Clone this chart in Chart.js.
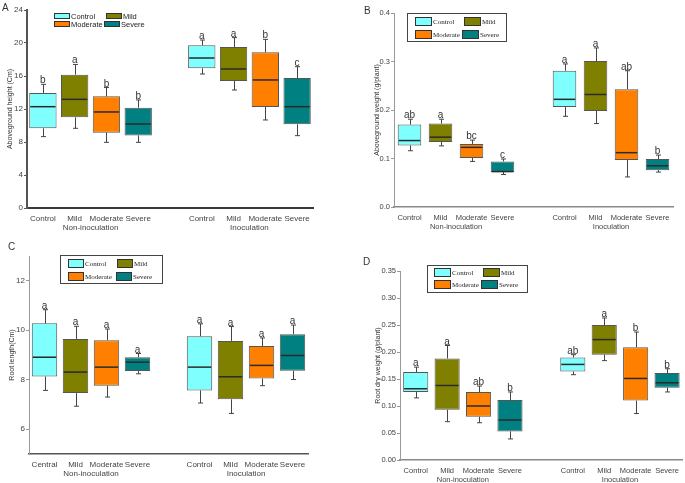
<!DOCTYPE html>
<html>
<head>
<meta charset="utf-8">
<script src="https://cdn.jsdelivr.net/npm/chart.js@4.4.1/dist/chart.umd.min.js"></script>
<style>
html, body { margin: 0; padding: 0; background: #fff; }
#wrap { position: relative; width: 685px; height: 483px; overflow: hidden; }
#wrap canvas { position: absolute; left: 0; top: 0; }
</style>
</head>
<body>
<div id="wrap">
  <canvas id="chartA" width="685" height="483"></canvas>
  <canvas id="chartB" width="685" height="483"></canvas>
  <canvas id="chartC" width="685" height="483"></canvas>
  <canvas id="chartD" width="685" height="483"></canvas>
</div>
<script>
// order of every array: Non-inoculation Control, Mild, Moderate, Severe, then Inoculation Control, Mild, Moderate, Severe
const treatmentNames = ['Control', 'Mild', 'Moderate', 'Severe'];
const groupNames = ['Non-inoculation', 'Inoculation'];

// A - aboveground height (Cm)
const heightLabels = ['Control', 'Mild', 'Moderate', 'Severe', 'Control', 'Mild', 'Moderate', 'Severe'];
const heightTicks = [0, 4, 8, 12, 16, 20, 24];
const heightLow = [8.65, 9.66, 7.96, 7.96, 16.24, 14.3, 10.67, 8.77];
const heightQ1 = [9.66, 10.99, 9.13, 8.8, 16.93, 15.39, 12.24, 10.14];
const heightMedian = [12.28, 13.17, 11.64, 10.18, 18.18, 16.85, 15.52, 12.28];
const heightQ3 = [13.94, 16.16, 13.54, 12.16, 19.72, 19.52, 18.87, 15.76];
const heightHigh = [14.99, 17.4, 14.6, 13.1, 20.36, 20.65, 20.44, 17.13];
const heightLetters = ['b', 'a', 'b', 'b', 'a', 'a', 'b', 'c'];

// B - aboveground weight (g/plant)
const weightLabels = ['Control', 'Mild', 'Moderate', 'Severe', 'Control', 'Mild', 'Moderate', 'Severe'];
const weightTicks = [0, 0.1, 0.2, 0.3, 0.4];
const weightLow = [0.116, 0.126, 0.094, 0.067, 0.187, 0.172, 0.062, 0.072];
const weightQ1 = [0.127, 0.134, 0.101, 0.072, 0.206, 0.198, 0.097, 0.076];
const weightMedian = [0.137, 0.144, 0.123, 0.073, 0.222, 0.232, 0.112, 0.085];
const weightQ3 = [0.170, 0.172, 0.130, 0.094, 0.281, 0.301, 0.243, 0.099];
const weightHigh = [0.181, 0.181, 0.138, 0.099, 0.295, 0.328, 0.281, 0.107];
const weightLetters = ['ab', 'a', 'bc', 'c', 'a', 'a', 'ab', 'b'];

// C - root length (Cm)
const lengthLabels = ['Central', 'Mild', 'Moderate', 'Severe', 'Control', 'Mild', 'Moderate', 'Severe'];
const lengthTicks = [6, 8, 10, 12];
const lengthLow = [7.57, 6.93, 7.30, 8.24, 7.06, 6.64, 7.76, 8.01];
const lengthQ1 = [8.13, 7.46, 7.76, 8.35, 7.57, 7.21, 8.05, 8.36];
const lengthMedian = [8.91, 8.31, 8.51, 8.71, 8.51, 8.12, 8.58, 8.98];
const lengthQ3 = [10.28, 9.65, 9.60, 8.91, 9.76, 9.57, 9.36, 9.84];
const lengthHigh = [10.83, 10.16, 10.05, 9.06, 10.26, 10.15, 9.69, 10.21];
const lengthLetters = ['a', 'a', 'a', 'a', 'a', 'a', 'a', 'a'];

// D - root dry weight (g/plant)
const rootLabels = ['Control', 'Mild', 'Moderate', 'Severe', 'Control', 'Mild', 'Moderate', 'Severe'];
const rootTicks = [0, 0.05, 0.1, 0.15, 0.2, 0.25, 0.3, 0.35];
const rootLow = [0.115, 0.071, 0.069, 0.039, 0.158, 0.184, 0.086, 0.126];
const rootQ1 = [0.126, 0.093, 0.080, 0.053, 0.164, 0.195, 0.110, 0.134];
const rootMedian = [0.132, 0.138, 0.100, 0.074, 0.177, 0.223, 0.151, 0.143];
const rootQ3 = [0.163, 0.188, 0.126, 0.111, 0.190, 0.250, 0.209, 0.161];
const rootHigh = [0.172, 0.212, 0.137, 0.126, 0.195, 0.263, 0.237, 0.169];
const rootLetters = ['a', 'a', 'ab', 'b', 'ab', 'a', 'b', 'b'];

const boxColors = ['#80ffff', '#808000', '#ff8000', '#008080'];
const SANS = '"Liberation Sans", Arial, sans-serif';
const SERIF = '"Liberation Serif", "Times New Roman", serif';

Chart.defaults.font.family = SANS;
Chart.defaults.color = '#444';

// empty slot between the two groups
function withGap(arr) {
    return arr.slice(0, 4).concat([null], arr.slice(4));
}

function boxPlugin(d, p) {
    return {
        id: 'boxExtras',
        afterDatasetsDraw(chart) {
            const ctx = chart.ctx;
            const ys = chart.scales.y, xs = chart.scales.x;
            const bars = chart.getDatasetMeta(0).data;
            ctx.save();
            d.median.forEach(function (m, k) {
                const bar = bars[k < 4 ? k : k + 1];
                const x = Math.round(bar.x) + 0.5;
                const half = bar.width / 2;
                const yHi = ys.getPixelForValue(d.high[k]);
                const yQ3 = ys.getPixelForValue(d.q3[k]);
                const yQ1 = ys.getPixelForValue(d.q1[k]);
                const yLo = ys.getPixelForValue(d.low[k]);
                const yMed = ys.getPixelForValue(m);
                // whiskers
                ctx.strokeStyle = '#444';
                ctx.lineWidth = 1;
                ctx.beginPath();
                ctx.moveTo(x, yQ3); ctx.lineTo(x, yHi);
                ctx.moveTo(x - 2.5, yHi); ctx.lineTo(x + 2.5, yHi);
                ctx.moveTo(x, yQ1); ctx.lineTo(x, yLo);
                ctx.moveTo(x - 2.5, yLo); ctx.lineTo(x + 2.5, yLo);
                ctx.stroke();
                // median
                ctx.strokeStyle = '#2a2a2a';
                ctx.lineWidth = 1.5;
                ctx.beginPath();
                ctx.moveTo(bar.x - half + 1, yMed);
                ctx.lineTo(bar.x + half - 1, yMed);
                ctx.stroke();
                // significance letter
                ctx.fillStyle = '#333';
                ctx.font = '10px ' + SANS;
                ctx.textAlign = 'center';
                ctx.textBaseline = 'alphabetic';
                ctx.fillText(d.letters[k], bar.x, yHi - 1);
            });
            // group names under the tick labels
            ctx.fillStyle = '#444';
            ctx.font = p.tickSize + 'px ' + SANS;
            ctx.textAlign = 'center';
            ctx.textBaseline = 'middle';
            const yg = chart.chartArea.bottom + 19.5;
            ctx.fillText(groupNames[0], (xs.getPixelForValue(1) + xs.getPixelForValue(2)) / 2, yg);
            ctx.fillText(groupNames[1], (xs.getPixelForValue(6) + xs.getPixelForValue(7)) / 2, yg);
            ctx.restore();
        },
        afterDraw(chart) {
            const ctx = chart.ctx;
            const L = p.legend;
            ctx.save();
            if (L.border) {
                ctx.strokeStyle = '#444';
                ctx.lineWidth = 1;
                ctx.strokeRect(Math.round(L.x) + 0.5, Math.round(L.y) + 0.5, L.w, L.h);
            }
            const spots = [
                [L.padX, L.padY], [L.col2[0], L.padY],
                [L.padX, L.padY + L.row2], [L.col2[1], L.padY + L.row2]
            ];
            ctx.font = L.size + 'px ' + (L.serif ? SERIF : SANS);
            ctx.textAlign = 'left';
            ctx.textBaseline = 'middle';
            treatmentNames.forEach(function (name, i) {
                const sx = Math.round(L.x + spots[i][0]), sy = Math.round(L.y + spots[i][1]);
                ctx.fillStyle = boxColors[i];
                ctx.fillRect(sx, sy, L.sw, L.sh);
                ctx.strokeStyle = '#333';
                ctx.lineWidth = 1;
                ctx.strokeRect(sx + 0.5, sy + 0.5, L.sw - 1, L.sh - 1);
                ctx.fillStyle = '#222';
                ctx.fillText(name, sx + L.sw + 1, sy + L.sh / 2 + 0.5);
            });
            // panel letter
            ctx.fillStyle = '#333';
            ctx.font = '10px ' + SANS;
            ctx.textBaseline = 'alphabetic';
            ctx.fillText(p.tag, p.tagX, p.tagY);
            ctx.restore();
        }
    };
}

function makePanel(id, d, p) {
    const labels = withGap(d.labels).map(function (v) { return v === null ? '' : v; });
    const colors = withGap([0, 1, 2, 3, 0, 1, 2, 3].map(function (i) { return boxColors[i]; }));
    const boxes = withGap(d.q1.map(function (v, i) { return [v, d.q3[i]]; }));
    const padLeft = p.titleX - 8;
    new Chart(document.getElementById(id), {
        type: 'bar',
        data: {
            labels: labels,
            datasets: [{
                data: boxes,
                backgroundColor: colors,
                borderColor: '#555',
                borderWidth: 1,
                borderSkipped: false,
                barPercentage: p.barPct,
                categoryPercentage: 1
            }]
        },
        options: {
            responsive: false,
            animation: false,
            events: [],
            layout: {
                padding: { left: padLeft, right: 685 - p.right, top: p.top, bottom: 483 - p.bottom - 30 }
            },
            plugins: { legend: { display: false }, tooltip: { enabled: false } },
            scales: {
                x: {
                    grid: { display: false, drawTicks: false },
                    border: { display: true, color: p.xAxisColor, width: p.xAxisWidth },
                    ticks: { autoSkip: false, maxRotation: 0, minRotation: 0, padding: 6, color: '#444',
                        font: { size: p.tickSize } },
                    afterFit: function (s) { s.height = 30; }
                },
                y: {
                    min: d.ticks[0] > 0 ? p.yMin : d.ticks[0],
                    max: p.yMax,
                    grid: { display: true, drawOnChartArea: false, drawTicks: true, tickLength: 3,
                        color: p.yAxisColor, lineWidth: 1 },
                    border: { display: true, color: p.yAxisColor, width: p.yAxisWidth },
                    ticks: { padding: 1, color: '#444', font: { size: p.tickSize },
                        callback: function (v) { return v.toFixed(p.decimals); } },
                    afterBuildTicks: function (s) { s.ticks = d.ticks.map(function (v) { return { value: v }; }); },
                    afterFit: function (s) { s.width = p.left - padLeft; },
                    title: { display: true, text: p.title, color: '#333', font: { size: 7 },
                        padding: { top: 3.8, bottom: 0 } }
                }
            }
        },
        plugins: [boxPlugin(d, p)]
    });
}

makePanel('chartA', {
    labels: heightLabels, ticks: heightTicks, low: heightLow, q1: heightQ1,
    median: heightMedian, q3: heightQ3, high: heightHigh, letters: heightLetters
}, {
    left: 27, right: 313, top: 10, bottom: 208, titleX: 10, yMin: 0, yMax: 24, decimals: 0,
    title: 'Aboveground height (Cm)', tickSize: 8, barPct: 0.86,
    xAxisColor: '#3a3a3a', xAxisWidth: 2, yAxisColor: '#555', yAxisWidth: 2,
    tag: 'A', tagX: 2, tagY: 11,
    legend: { x: 47.3, y: 8.7, w: 0, h: 0, border: false, serif: false, size: 7.5,
        padX: 7, padY: 4, row2: 8.6, col2: [58.7, 57], sw: 16, sh: 6 }
});

makePanel('chartB', {
    labels: weightLabels, ticks: weightTicks, low: weightLow, q1: weightQ1,
    median: weightMedian, q3: weightQ3, high: weightHigh, letters: weightLetters
}, {
    left: 394, right: 673, top: 13, bottom: 207, titleX: 377, yMin: 0, yMax: 0.4, decimals: 1,
    title: 'Aboveground weight (g/plant)', tickSize: 7.5, barPct: 0.76,
    xAxisColor: '#888', xAxisWidth: 1.5, yAxisColor: '#999', yAxisWidth: 1,
    tag: 'B', tagX: 364, tagY: 14,
    legend: { x: 407, y: 13, w: 99, h: 28, border: true, serif: true, size: 7,
        padX: 8, padY: 4, row2: 12.7, col2: [57, 54.5], sw: 17, sh: 9 }
});

makePanel('chartC', {
    labels: lengthLabels, ticks: lengthTicks, low: lengthLow, q1: lengthQ1,
    median: lengthMedian, q3: lengthQ3, high: lengthHigh, letters: lengthLetters
}, {
    left: 29, right: 308, top: 256, bottom: 454, titleX: 12, yMin: 5, yMax: 13, decimals: 0,
    title: 'Root length(Cm)', tickSize: 8, barPct: 0.82,
    xAxisColor: '#555', xAxisWidth: 1.5, yAxisColor: '#999', yAxisWidth: 1,
    tag: 'C', tagX: 8, tagY: 250,
    legend: { x: 60, y: 255, w: 102, h: 28, border: true, serif: true, size: 7,
        padX: 8, padY: 4, row2: 12.5, col2: [57, 56], sw: 16, sh: 9 }
});

makePanel('chartD', {
    labels: rootLabels, ticks: rootTicks, low: rootLow, q1: rootQ1,
    median: rootMedian, q3: rootQ3, high: rootHigh, letters: rootLetters
}, {
    left: 400, right: 684, top: 271, bottom: 460, titleX: 378, yMin: 0, yMax: 0.35, decimals: 2,
    title: 'Root dry weight (g/plant)', tickSize: 7.5, barPct: 0.8,
    xAxisColor: '#888', xAxisWidth: 1.5, yAxisColor: '#999', yAxisWidth: 1,
    tag: 'D', tagX: 363, tagY: 265,
    legend: { x: 427, y: 265, w: 100, h: 27, border: true, serif: true, size: 7,
        padX: 6.5, padY: 3, row2: 12, col2: [56, 54], sw: 17, sh: 9 }
});
</script>
</body>
</html>
